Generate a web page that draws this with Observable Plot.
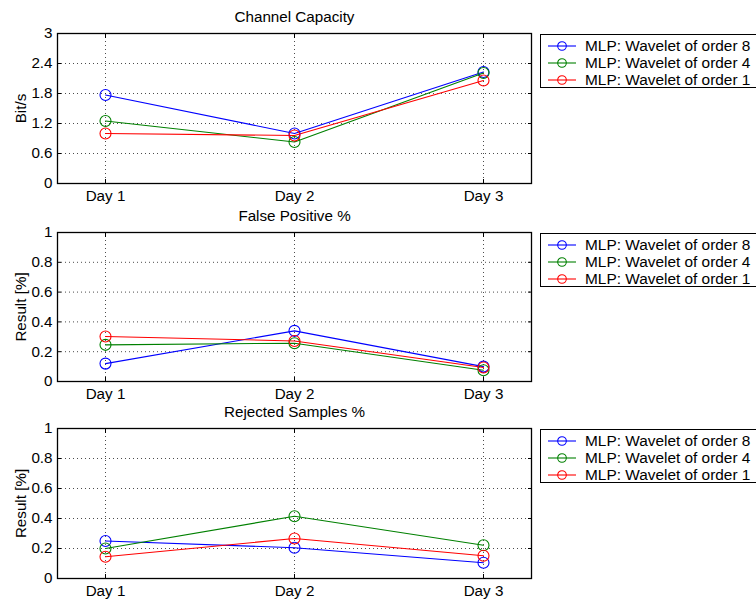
<!DOCTYPE html>
<html>
<head>
<meta charset="utf-8">
<script src="https://cdn.jsdelivr.net/npm/d3@7"></script>
<script src="https://cdn.jsdelivr.net/npm/@observablehq/plot@0.6"></script>
<style>
  html, body { margin: 0; padding: 0; background: #fff; }
  body { width: 756px; height: 602px; overflow: hidden; font-family: "Liberation Sans", Arial, sans-serif; }
  #chart { position: relative; width: 756px; height: 602px; }
  .panel { position: absolute; left: 0; }
  .legend {
    position: absolute; left: 540px; width: 222px; height: 54px;
    border: 1.3px solid #000; background: #fff; box-sizing: border-box;
    font-size: 15.4px; color: #000;
  }
  .legend .row { position: absolute; left: 6px; height: 17px; display: flex; align-items: center; white-space: nowrap; }
  .legend svg { margin-right: 8px; }
</style>
</head>
<body>
<div id="chart"></div>
<script>
// Categories and series
const days = ["Day 1", "Day 2", "Day 3"];
const seriesNames = ["MLP: Wavelet of order 8", "MLP: Wavelet of order 4", "MLP: Wavelet of order 1"];
const seriesColors = ["#0000ff", "#008000", "#ff0000"];

// Channel capacity (Bit/s)
const capacityOrder8 = [1.77, 1.00, 2.23];
const capacityOrder4 = [1.25, 0.83, 2.21];
const capacityOrder1 = [1.00, 0.96, 2.06];

// False positive rate
const falsePosOrder8 = [0.12, 0.34, 0.10];
const falsePosOrder4 = [0.246, 0.257, 0.076];
const falsePosOrder1 = [0.302, 0.272, 0.094];

// Rejected samples rate
const rejectedOrder8 = [0.25, 0.205, 0.105];
const rejectedOrder4 = [0.20, 0.415, 0.222];
const rejectedOrder1 = [0.145, 0.267, 0.152];

// Axis ticks
const capacityTicks = [0, 0.6, 1.2, 1.8, 2.4, 3];
const percentTicks = [0, 0.2, 0.4, 0.6, 0.8, 1];

const panels = [
  {title: "Channel Capacity", ylabel: "Bit/s", domain: [0, 3], ticks: capacityTicks,
   series: [capacityOrder8, capacityOrder4, capacityOrder1], frameTop: 33, frameHeight: 150},
  {title: "False Positive %", ylabel: "Result [%]", domain: [0, 1], ticks: percentTicks,
   series: [falsePosOrder8, falsePosOrder4, falsePosOrder1], frameTop: 232, frameHeight: 149},
  {title: "Rejected Samples %", ylabel: "Result [%]", domain: [0, 1], ticks: percentTicks,
   series: [rejectedOrder8, rejectedOrder4, rejectedOrder1], frameTop: 428, frameHeight: 150}
];

const chart = document.getElementById("chart");
const marginTop = 33, marginBottom = 28, marginLeft = 57, marginRight = 225;

for (const p of panels) {
  const rows = p.series.flatMap((vals, i) =>
    vals.map((v, j) => ({day: days[j], value: v, name: seriesNames[i]})));

  const plot = Plot.plot({
    width: 756,
    height: marginTop + p.frameHeight + marginBottom,
    marginTop, marginBottom, marginLeft, marginRight,
    style: {background: "transparent", fontFamily: "Liberation Sans, Arial, sans-serif", fontSize: "15.2px", overflow: "visible"},
    x: {type: "point", domain: days, padding: 0.25},
    y: {domain: p.domain},
    color: {domain: seriesNames, range: seriesColors},
    marks: [
      Plot.gridX(days, {stroke: "#000", strokeOpacity: 0.7, strokeDasharray: "1,3"}),
      Plot.gridY(p.ticks, {stroke: "#000", strokeOpacity: 0.7, strokeDasharray: "1,3"}),
      // inward tick marks on all four sides
      Plot.axisX({anchor: "bottom", tickSize: -4, tickFormat: () => "", label: null}),
      Plot.axisX({anchor: "top", tickSize: -4, tickFormat: () => "", label: null}),
      Plot.axisY(p.ticks, {anchor: "left", tickSize: -4, tickFormat: () => "", label: null}),
      Plot.axisY(p.ticks, {anchor: "right", tickSize: -4, tickFormat: () => "", label: null}),
      // tick labels
      Plot.axisX({anchor: "bottom", tickSize: 0, tickPadding: 7, label: null, fill: "#000"}),
      Plot.axisY(p.ticks, {anchor: "left", tickSize: 0, tickPadding: 5, tickFormat: d => String(d),
        label: p.ylabel, labelAnchor: "center", labelArrow: "none", labelOffset: 42, fill: "#000"}),
      Plot.frame({stroke: "#000", strokeWidth: 1.3}),
      Plot.line(rows, {x: "day", y: "value", z: "name", stroke: "name", strokeWidth: 1.1}),
      Plot.dot(rows, {x: "day", y: "value", stroke: "name", r: 5.5, strokeWidth: 1.1}),
      Plot.text([p.title], {frameAnchor: "top", dy: -22, fill: "#000", fontSize: 15.2})
    ]
  });

  const wrap = document.createElement("div");
  wrap.className = "panel";
  wrap.style.top = (p.frameTop - marginTop) + "px";
  wrap.appendChild(plot);
  chart.appendChild(wrap);

  // legend box
  const legend = document.createElement("div");
  legend.className = "legend";
  legend.style.top = (p.frameTop + 1) + "px";
  seriesNames.forEach((name, i) => {
    const row = document.createElement("div");
    row.className = "row";
    row.style.top = (2 + i * 17) + "px";
    row.innerHTML = `<svg width="30" height="14"><line x1="1" x2="29" y1="7" y2="7" stroke="${seriesColors[i]}" stroke-width="1.1"/>` +
      `<circle cx="15" cy="7" r="4.3" fill="none" stroke="${seriesColors[i]}" stroke-width="1.1"/></svg><span>${name}</span>`;
    legend.appendChild(row);
  });
  chart.appendChild(legend);
}
</script>
</body>
</html>
